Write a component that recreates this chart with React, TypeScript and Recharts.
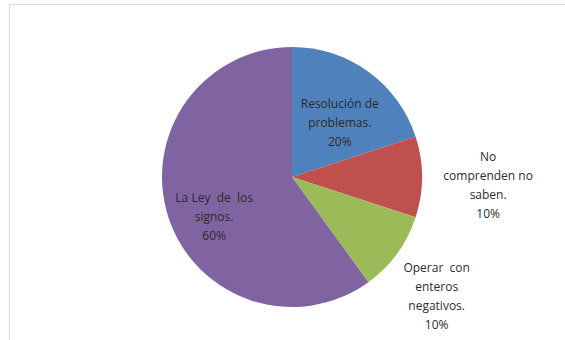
import React from "react";
import { PieChart, Pie, Cell } from "recharts";

const categories = [
  "Resolución de problemas.",
  "No comprenden no saben.",
  "Operar con enteros negativos.",
  "La Ley de los signos.",
];
const values = [20, 10, 10, 60];
const labelLines = [
  ["Resolución de", "problemas.", "20%"],
  ["No", "comprenden no", "saben.", "10%"],
  ["Operar  con", "enteros", "negativos.", "10%"],
  ["La Ley  de  los", "signos.", "60%"],
];
const colors = ["#4F81BD", "#C0504D", "#9BBB59", "#8064A2"];

// label placement: radius factor (of outerRadius) and angle delta (deg)
const placement = [
  { r: 0.56, da: -5 },
  { r: 1.51, da: -2.3 },
  { r: 1.44, da: -3.4 },
  { r: 0.67, da: 8.6 },
];

const data = categories.map((name, i) => ({ name, value: values[i] }));

const RADIAN = Math.PI / 180;
const LINE_H = 19;

const renderLabel = (props: any) => {
  const { cx, cy, midAngle, outerRadius, index } = props;
  const p = placement[index];
  const ang = (midAngle + p.da) * RADIAN;
  const r = outerRadius * p.r;
  const x = cx + r * Math.cos(ang);
  const y = cy - r * Math.sin(ang);
  const lines = labelLines[index];
  const y0 = y - ((lines.length - 1) * LINE_H) / 2;
  return (
    <text
      x={x}
      y={y0}
      textAnchor="middle"
      dominantBaseline="central"
      fill="#2b2b2b"
      fontSize={12}
      fontFamily="'Open Sans', sans-serif"
      style={{ whiteSpace: "pre" }}
    >
      {lines.map((l, i) => (
        <tspan key={i} x={x} y={y0 + i * LINE_H}>
          {l}
        </tspan>
      ))}
    </text>
  );
};

export default function App() {
  return (
    <div
      style={{
        position: "absolute",
        left: 0,
        top: 0,
        width: 565,
        height: 340,
        overflow: "hidden",
        background: "#ffffff",
      }}
    >
      <div
        style={{
          position: "absolute",
          left: 9,
          top: 4,
          width: 620,
          height: 400,
          border: "1px solid #d9d9d9",
          boxSizing: "border-box",
        }}
      />
      <div style={{ position: "absolute", left: 0, top: 0 }}>
        <PieChart width={565} height={340} margin={{ top: 0, right: 0, bottom: 0, left: 0 }}>
          <Pie
            data={data}
            dataKey="value"
            nameKey="name"
            cx={292}
            cy={177}
            outerRadius={130}
            startAngle={90}
            endAngle={-270}
            stroke="none"
            label={renderLabel}
            labelLine={false}
            isAnimationActive={false}
          >
            {data.map((d, i) => (
              <Cell key={d.name} fill={colors[i]} />
            ))}
          </Pie>
        </PieChart>
      </div>
    </div>
  );
}
